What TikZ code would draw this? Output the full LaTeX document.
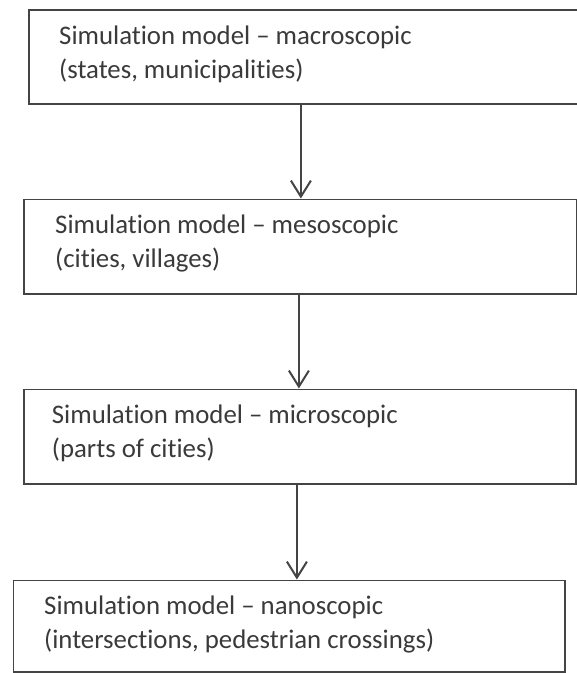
\documentclass[tikz,border=0pt]{standalone}
\usepackage{fontspec}
\setmainfont{Carlito}[Ligatures={NoCommon,NoContextual}]
\usetikzlibrary{arrows.meta}
\definecolor{edgegray}{HTML}{444444}
\definecolor{textgray}{HTML}{3A3A3A}
\begin{document}
\begin{tikzpicture}[x=1pt,y=1pt,
  boxst/.style={draw=edgegray, line width=1.8pt, fill=white, rectangle, inner sep=0pt, anchor=north west},
  lbl/.style={anchor=base west, inner sep=0pt, align=left, text=textgray,
     font=\fontsize{26.8}{34}\selectfont},
  arr/.style={draw=edgegray, line width=2pt, -{Straight Barb[length=16pt,width=20pt,line width=2pt]}}]
\useasboundingbox (0,0) rectangle (577,-673);
\clip (0,0) rectangle (577,-673);
\fill[white] (0,0) rectangle (577,-673);
\node[boxst, minimum width=552pt, minimum height=94pt] (b1) at (28,-9) {};
\node[boxst, minimum width=553pt, minimum height=94.5pt] (b2) at (23,-198.5) {};
\node[boxst, minimum width=552pt, minimum height=94.5pt] (b3) at (22.7,-388.5) {};
\node[boxst, minimum width=551.5pt, minimum height=91.5pt] (b4) at (12.5,-579.5) {};
\node[lbl] (t1) at ([xshift=31pt,yshift=-69pt]b1.north west) {Simulation model – macroscopic\\(states, municipalities)};
\node[lbl] (t2) at ([xshift=32pt,yshift=-68.5pt]b2.north west) {Simulation model – mesoscopic\\(cities, villages)};
\node[lbl] (t3) at ([xshift=29pt,yshift=-68.5pt]b3.north west) {Simulation model – microscopic\\(parts of cities)};
\node[lbl] (t4) at ([xshift=31.5pt,yshift=-68.5pt]b4.north west) {Simulation model – nanoscopic\\(intersections, pedestrian crossings)};
\draw[arr] ([xshift=-4pt]b1.south) -- ([xshift=0.5pt]b2.north);
\draw[arr] ([xshift=-1.5pt]b2.south) -- ([xshift=-0.7pt]b3.north);
\draw[arr] ([xshift=-2.7pt]b3.south) -- ([xshift=7.75pt]b4.north);
\end{tikzpicture}
\end{document}
